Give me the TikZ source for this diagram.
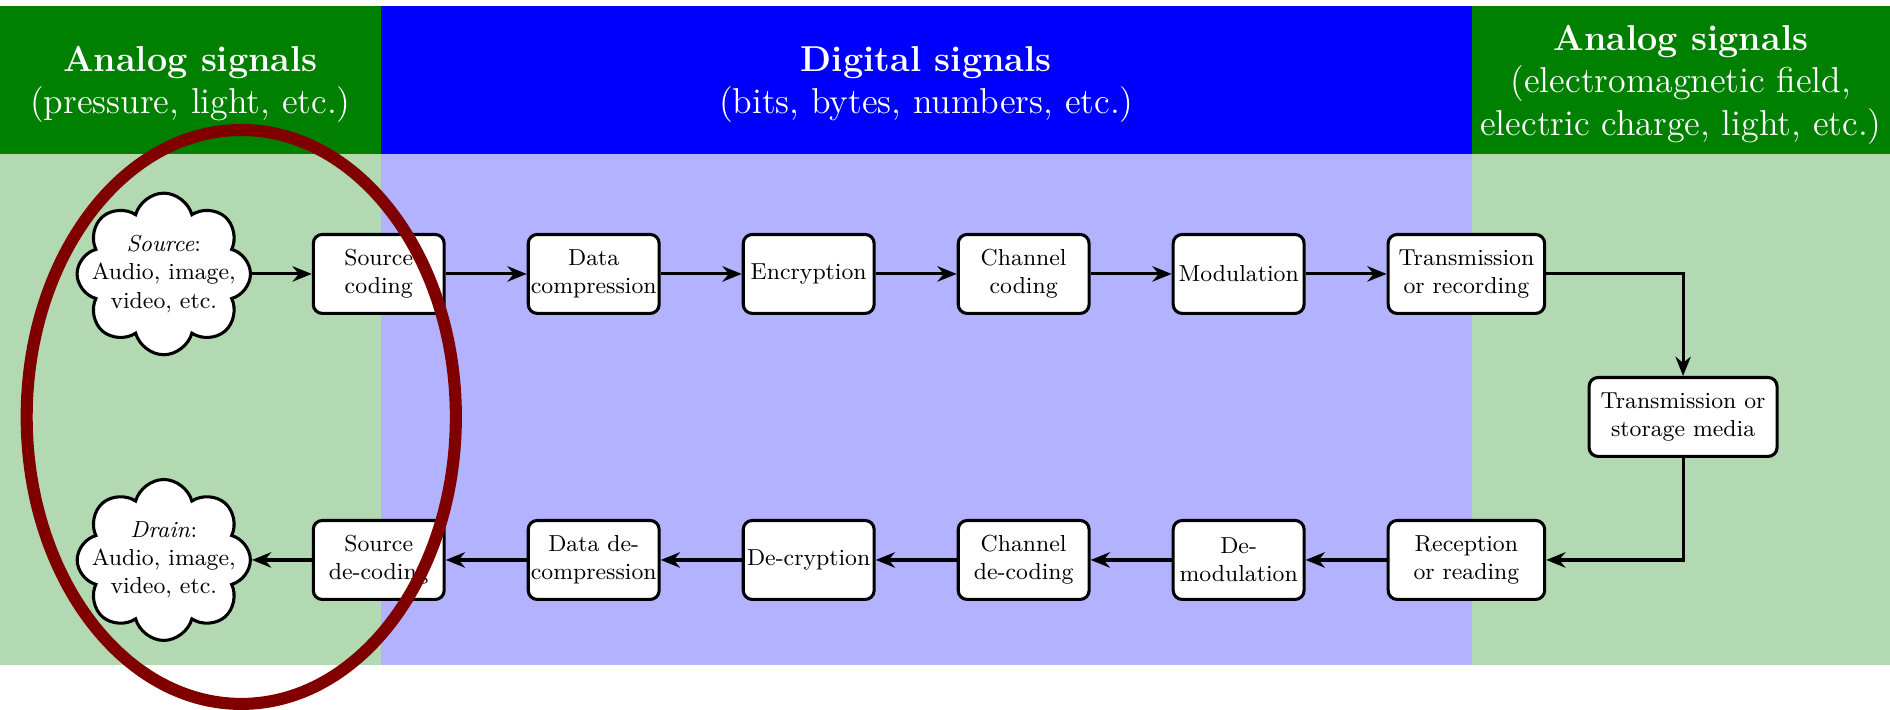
\documentclass[tikz,border=0pt]{standalone}
\usepackage{amsmath,amssymb}
\usepackage{xcolor}
\usepackage{tikz}
\usetikzlibrary{shapes,shapes.symbols,arrows.meta,positioning,calc}
\definecolor{analoggreen}{RGB}{0,128,0}
\definecolor{digitalblue}{RGB}{0,0,255}
\definecolor{markred}{RGB}{128,0,0}

\begin{document}
\begin{tikzpicture}[every node/.style={font=\small},
    stage/.style={draw, very thick, rounded corners=3.5pt, fill=white, align=center,
        minimum width=1.79cm, minimum height=1.08cm, inner xsep=1pt},
    widestage/.style={stage, minimum width=2.14cm},
    blob/.style={cloud, cloud puffs=8, cloud ignores aspect, draw, very thick, fill=white,
        align=center, inner xsep=-7.8pt, inner ysep=2.6pt},
    band/.style={text=white, align=center, font={\fontsize{14}{16.4}\selectfont}},
    flow/.style={very thick, -{Stealth[length=7.5pt, width=6pt]}},
    node distance=1.108cm]
    \useasboundingbox (0,0) rectangle (25.85,9.71);

    % signal regions
    \fill[analoggreen!30] (0,0.615) rectangle (5.21,7.604);
    \fill[digitalblue!30] (5.21,0.615) rectangle (20.13,7.604);
    \fill[analoggreen!30] (20.13,0.615) rectangle (25.85,7.604);
    \fill[analoggreen] (0,7.604) rectangle (5.21,9.63);
    \fill[digitalblue] (5.21,7.604) rectangle (20.13,9.63);
    \fill[analoggreen] (20.13,7.604) rectangle (25.85,9.63);

    \node[band] (hleft) at (2.605,8.55) {\textbf{Analog signals}\\(pressure, light, etc.)};
    \node[band] (hmid) at (12.67,8.55) {\textbf{Digital signals}\\(bits, bytes, numbers, etc.)};
    \node[band] (hright) at (22.99,8.55) {\textbf{Analog signals}\\(electromagnetic field,\\electric charge, light, etc.)};

    % sending chain
    \node[blob] (source) at (2.24,5.963) {\textit{Source}:\\Audio, image,\\video, etc.};
    \node[stage] (srccod) at (5.18,5.963) {Source\\coding};
    \node[stage, right=of srccod] (datacomp) {Data\\compression};
    \node[stage, right=of datacomp] (encrypt) {Encryption};
    \node[stage, right=of encrypt] (chancod) {Channel\\coding};
    \node[stage, right=of chancod] (modul) {Modulation};
    \node[widestage, right=of modul] (txrec) {Transmission\\or recording};

    % medium
    \node[stage, inner xsep=4.5pt] (media) at (23.02,4.007) {Transmission or\\storage media};

    % receiving chain
    \node[blob] (drain) at (2.24,2.051) {\textit{Drain}:\\Audio, image,\\video, etc.};
    \node[stage] (srcdec) at (5.18,2.051) {Source\\de-coding};
    \node[stage, right=of srcdec] (datadec) {Data de-\\compression};
    \node[stage, right=of datadec] (decrypt) {De-cryption};
    \node[stage, right=of decrypt] (chandec) {Channel\\de-coding};
    \node[stage, right=of chandec] (demod) {De-\\modulation};
    \node[widestage, right=of demod] (rxread) {Reception\\or reading};

    \draw[flow] (source) -- (srccod);
    \draw[flow] (srccod) -- (datacomp);
    \draw[flow] (datacomp) -- (encrypt);
    \draw[flow] (encrypt) -- (chancod);
    \draw[flow] (chancod) -- (modul);
    \draw[flow] (modul) -- (txrec);
    \draw[flow] (txrec.east) -| (media.north);
    \draw[flow] (media.south) |- (rxread.east);
    \draw[flow] (rxread) -- (demod);
    \draw[flow] (demod) -- (chandec);
    \draw[flow] (chandec) -- (decrypt);
    \draw[flow] (decrypt) -- (datadec);
    \draw[flow] (datadec) -- (srcdec);
    \draw[flow] (srcdec) -- (drain);

    % highlight
    \draw[markred, line width=4.7pt] (3.30,4.007) ellipse (2.935cm and 3.925cm);
\end{tikzpicture}
\end{document}
